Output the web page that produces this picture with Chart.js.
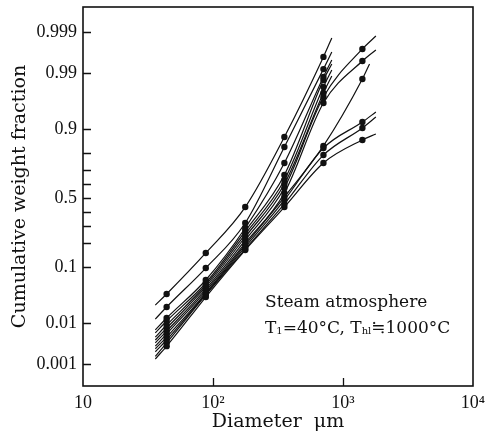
<!DOCTYPE html>
<html>
<head>
<meta charset="utf-8">
<script src="https://cdn.jsdelivr.net/npm/chart.js@4.4.1/dist/chart.umd.min.js"></script>
<style>
  html, body { margin: 0; padding: 0; background: #fff; }
  #wrap { position: relative; width: 498px; height: 432px; }
  #note {
    position: absolute; left: 265px; top: 288px;
    font-family: "DejaVu Serif", serif; font-size: 17px; line-height: 26px;
    color: #111; white-space: nowrap;
  }
  #note sub { font-size: 10px; vertical-align: -1px; }
</style>
</head>
<body>
<div id="wrap">
  <canvas id="canvas" width="498" height="432"></canvas>
  <div id="note">Steam atmosphere<br>T<sub>1</sub>=40°C, T<sub>hl</sub>≒1000°C</div>
</div>
<script>
// sieve sizes (um)
const sizes = [44, 88, 177, 354, 707, 1410];
const lowEndSize = 36;
const highEndSize = [820, 820, 820, 820, 820, 820, 1790, 1790, 1600, 1790, 1790, 1790];

// cumulative weight fraction for each run
const run1 = [0.0369, 0.153, 0.433, 0.872, 0.9957];
const run2 = [0.0212, 0.096, 0.321, 0.829, 0.9918];
const run3 = [0.0127, 0.0634, 0.288, 0.743, 0.9879];
const run4 = [0.0110, 0.0567, 0.269, 0.666, 0.9860];
const run5 = [0.0090, 0.0526, 0.251, 0.631, 0.9806];
const run6 = [0.0077, 0.0488, 0.234, 0.603, 0.9747];
const run7 = [0.0066, 0.0450, 0.217, 0.574, 0.9700, 0.99724];
const run8 = [0.0057, 0.0416, 0.201, 0.537, 0.9616, 0.99463];
const run9 = [0.0048, 0.0384, 0.191, 0.507, 0.834, 0.98665];
const run10 = [0.0041, 0.0369, 0.181, 0.485, 0.824, 0.9215];
const run11 = [0.0035, 0.0355, 0.171, 0.456, 0.788, 0.9039];
const run12 = [0.0029, 0.0326, 0.166, 0.433, 0.743, 0.860];

// where the drawn curves start and stop
const lowEnd = [0.0231, 0.0121, 0.0070, 0.0060, 0.0048, 0.0041, 0.0035, 0.0029, 0.0025, 0.0021, 0.0016, 0.00136];
const highEnd = [0.99856, 0.99673, 0.99491, 0.99371, 0.99143, 0.98846, 0.99872, 0.99708, 0.99371, 0.9453, 0.9342, 0.8833];

const yTicks = [0.001, 0.01, 0.1, 0.5, 0.9, 0.99, 0.999];
const yMinor = [0.2, 0.3, 0.4, 0.6, 0.7, 0.8];
const xTicks = [10, 100, 1000, 10000];
const xLabels = ["10", "10²", "10³", "10⁴"];

const runs = [run1, run2, run3, run4, run5, run6, run7, run8, run9, run10, run11, run12];

// inverse normal cdf (Acklam)
function probit(p) {
  const a = [-3.969683028665376e+01, 2.209460984245205e+02, -2.759285104469687e+02, 1.383577518672690e+02, -3.066479806614716e+01, 2.506628277459239e+00];
  const b = [-5.447609879822406e+01, 1.615858368580409e+02, -1.556989798598866e+02, 6.680131188771972e+01, -1.328068155288572e+01];
  const c = [-7.784894002430293e-03, -3.223964580411365e-01, -2.400758277161838e+00, -2.549732539343734e+00, 4.374664141464968e+00, 2.938163982698783e+00];
  const d = [7.784695709041462e-03, 3.224671290700398e-01, 2.445134137142996e+00, 3.754408661907416e+00];
  const pl = 0.02425;
  if (p < pl) {
    const q = Math.sqrt(-2 * Math.log(p));
    return (((((c[0]*q+c[1])*q+c[2])*q+c[3])*q+c[4])*q+c[5]) / ((((d[0]*q+d[1])*q+d[2])*q+d[3])*q+1);
  }
  if (p > 1 - pl) {
    const q = Math.sqrt(-2 * Math.log(1 - p));
    return -(((((c[0]*q+c[1])*q+c[2])*q+c[3])*q+c[4])*q+c[5]) / ((((d[0]*q+d[1])*q+d[2])*q+d[3])*q+1);
  }
  const q = p - 0.5, r = q * q;
  return (((((a[0]*r+a[1])*r+a[2])*r+a[3])*r+a[4])*r+a[5])*q / (((((b[0]*r+b[1])*r+b[2])*r+b[3])*r+b[4])*r+1);
}

// normal probability axis
class ProbitScale extends Chart.LinearScale {
  determineDataLimits() {
    this.min = this.options.min;
    this.max = this.options.max;
  }
  buildTicks() {
    return yTicks.map((v) => ({ value: v }));
  }
  getPixelForValue(v) {
    const z0 = probit(this.min), z1 = probit(this.max);
    return this.getPixelForDecimal((probit(v) - z0) / (z1 - z0));
  }
}
ProbitScale.id = "probit";
ProbitScale.defaults = {};
Chart.register(ProbitScale);

const frameAndTicks = {
  id: "frameAndTicks",
  afterDraw(chart) {
    const { ctx, chartArea: a, scales } = chart;
    ctx.save();
    ctx.strokeStyle = "#111";
    ctx.lineWidth = 1.6;
    ctx.strokeRect(a.left, a.top, a.right - a.left, a.bottom - a.top);
    ctx.lineWidth = 1.3;
    ctx.beginPath();
    yTicks.concat(yMinor).forEach((v) => {
      const y = Math.round(scales.y.getPixelForValue(v)) + 0.5;
      ctx.moveTo(a.left, y);
      ctx.lineTo(a.left + 8, y);
    });
    [100, 1000].forEach((v) => {
      const x = Math.round(scales.x.getPixelForValue(v)) + 0.5;
      ctx.moveTo(x, a.bottom);
      ctx.lineTo(x, a.bottom - 8);
    });
    ctx.stroke();
    ctx.restore();
  },
};

const datasets = runs.map((run, i) => {
  const pts = [{ x: lowEndSize, y: lowEnd[i] }];
  run.forEach((v, j) => pts.push({ x: sizes[j], y: v }));
  pts.push({ x: highEndSize[i], y: highEnd[i] });
  return {
    label: "run " + (i + 1),
    data: pts,
    showLine: true,
    borderColor: "#111",
    backgroundColor: "#111",
    borderWidth: 1.2,
    cubicInterpolationMode: "monotone",
    pointRadius: pts.map((p, k) => (k === 0 || k === pts.length - 1 ? 0 : 3.2)),
    pointBorderWidth: 0,
  };
});

new Chart(document.getElementById("canvas").getContext("2d"), {
  type: "scatter",
  data: { datasets },
  plugins: [frameAndTicks],
  options: {
    responsive: false,
    animation: false,
    devicePixelRatio: 1,
    layout: { padding: { left: 0, top: 7, right: 25, bottom: 0 } },
    plugins: { legend: { display: false }, tooltip: { enabled: false } },
    scales: {
      x: {
        type: "logarithmic",
        min: 10,
        max: 10000,
        afterBuildTicks: (s) => { s.ticks = xTicks.map((v) => ({ value: v })); },
        afterFit: (s) => { s.height = 46; s.paddingLeft = 0; s.paddingRight = 0; },
        grid: { display: false, drawTicks: false },
        border: { display: false },
        ticks: {
          padding: 6,
          color: "#111",
          font: { family: "'Liberation Serif', serif", size: 18 },
          maxRotation: 0,
          autoSkip: false,
          callback: (v) => xLabels[xTicks.indexOf(v)] || "",
        },
        title: {
          display: true,
          text: "Diameter  μm",
          color: "#111",
          font: { family: "'DejaVu Serif', serif", size: 19, lineHeight: 1 },
          padding: { top: 0, bottom: 0 },
        },
      },
      y: {
        type: "probit",
        min: 0.000232,
        max: 0.999812,
        afterFit: (s) => { s.width = 83; s.paddingTop = 0; s.paddingBottom = 0; },
        grid: { display: false, drawTicks: false },
        border: { display: false },
        ticks: {
          padding: 6,
          color: "#111",
          font: { family: "'Liberation Serif', serif", size: 18 },
          autoSkip: false,
          callback: (v) => String(v),
        },
        title: {
          display: true,
          text: "Cumulative weight fraction",
          color: "#111",
          font: { family: "'DejaVu Serif', serif", size: 19, lineHeight: 1 },
          padding: { top: 11, bottom: 0 },
        },
      },
    },
  },
});
</script>
</body>
</html>
